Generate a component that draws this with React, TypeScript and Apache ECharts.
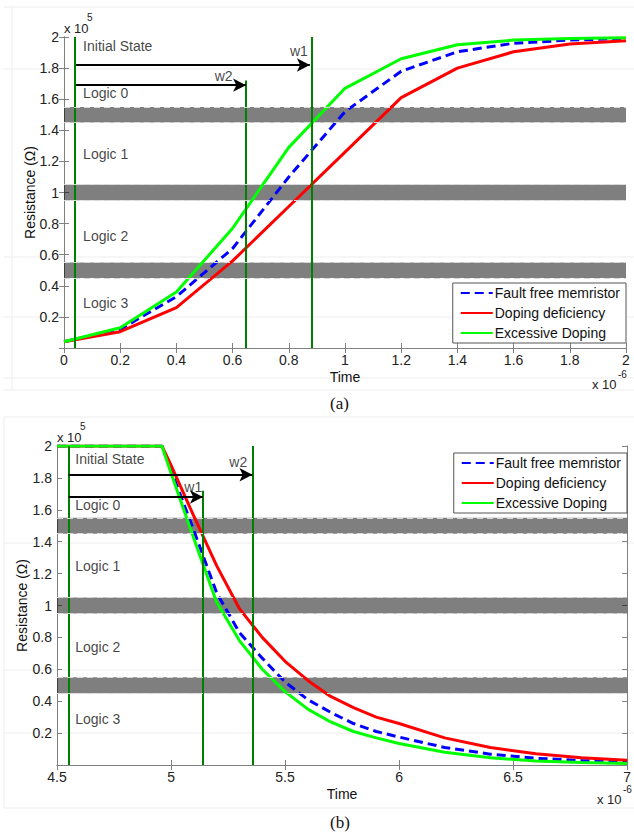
import React, { useEffect, useRef } from "react";
import * as echarts from "echarts";

// ---------- (a) data ----------
const timeA = [0, 0.2, 0.4, 0.6, 0.8, 1.0, 1.2, 1.4, 1.6, 1.8, 2.0];
const faultFreeA = [0.04, 0.12, 0.33, 0.64, 1.10, 1.52, 1.78, 1.905, 1.96, 1.98, 1.99];
const dopingDefA = [0.04, 0.105, 0.26, 0.56, 0.91, 1.26, 1.61, 1.80, 1.905, 1.955, 1.976];
const excessA = [0.04, 0.13, 0.36, 0.77, 1.29, 1.67, 1.86, 1.95, 1.98, 1.99, 1.995];

// ---------- (b) data ----------
const timeB = [4.5, 4.96, 5.0, 5.1, 5.2, 5.3, 5.4, 5.5, 5.6, 5.7, 5.8, 5.9, 6.0, 6.2, 6.4, 6.6, 6.8, 7.0];
const faultFreeB = [2, 2, 1.85, 1.47, 1.08, 0.83, 0.67, 0.52, 0.41, 0.33, 0.26, 0.21, 0.175, 0.11, 0.068, 0.042, 0.028, 0.02];
const dopingDefB = [2, 2, 1.88, 1.56, 1.25, 0.98, 0.80, 0.65, 0.53, 0.43, 0.36, 0.30, 0.26, 0.17, 0.11, 0.07, 0.045, 0.03];
const excessB = [2, 2, 1.83, 1.42, 1.02, 0.78, 0.60, 0.46, 0.35, 0.27, 0.21, 0.17, 0.135, 0.08, 0.045, 0.025, 0.015, 0.01];

// logic level bands (x1e5 ohm)
const bands = [[1.45, 1.55], [0.95, 1.05], [0.45, 0.55]];

// write pulses
const fullLinesA = [0.043, 0.875];
const partLinesA = [[0.648, 1.72]];
const arrowsA = [[0.043, 0.875, 1.82], [0.043, 0.648, 1.69]];
const fullLinesB = [4.551, 5.357];
const partLinesB = [[5.14, 1.72]];
const arrowsB = [[4.551, 5.357, 1.82], [4.551, 5.14, 1.68]];

// text annotations [x, y, text, align]
const labelsA: [number, number, string, string][] = [
  [0.068, 1.94, "Initial State", "l"],
  [0.068, 1.64, "Logic 0", "l"],
  [0.068, 1.25, "Logic 1", "l"],
  [0.068, 0.72, "Logic 2", "l"],
  [0.068, 0.29, "Logic 3", "l"],
  [0.868, 1.91, "w1", "r"],
  [0.60, 1.75, "w2", "r"],
];
const labelsB: [number, number, string, string][] = [
  [4.58, 1.92, "Initial State", "l"],
  [4.58, 1.63, "Logic 0", "l"],
  [4.58, 1.25, "Logic 1", "l"],
  [4.58, 0.74, "Logic 2", "l"],
  [4.58, 0.29, "Logic 3", "l"],
  [5.334, 1.9, "w2", "r"],
  [5.137, 1.74, "w1", "r"],
];

const names = ["Fault free memristor", "Doping deficiency", "Excessive Doping"];
const FONT = "Liberation Sans";

function zip(xs: number[], ys: number[]) {
  return xs.map((x, i) => [x, ys[i]]);
}

function curveSeries(xi: number, yi: number, t: number[], ff: number[], dd: number[], ex: number[]) {
  const base = { type: "line", xAxisIndex: xi, yAxisIndex: yi, symbol: "none", showSymbol: false, silent: true, z: 3 };
  return [
    { ...base, name: names[0], data: zip(t, ff), lineStyle: { color: "#0000ff", width: 3, type: [9, 5] }, itemStyle: { color: "#0000ff" } },
    { ...base, name: names[1], data: zip(t, dd), lineStyle: { color: "#ff0000", width: 3 }, itemStyle: { color: "#ff0000" } },
    { ...base, name: names[2], data: zip(t, ex), lineStyle: { color: "#00ff00", width: 3 }, itemStyle: { color: "#00ff00" } },
  ];
}

function markSeries(xi: number, yi: number, full: number[], part: number[][], arrows: number[][], labels: [number, number, string, string][]) {
  const green = { color: "#008000", width: 2, type: "solid" };
  const black = { color: "#000000", width: 2, type: "solid" };
  const lineData: any[] = [];
  full.forEach((v) => lineData.push({ xAxis: v, lineStyle: green, symbol: "none" }));
  part.forEach(([x, top]) => lineData.push([{ coord: [x, 0], lineStyle: green, symbol: "none" }, { coord: [x, top], symbol: "none" }]));
  arrows.forEach(([x1, x2, y]) => lineData.push([{ coord: [x1, y], lineStyle: black, symbol: "none" }, { coord: [x2, y], symbol: "arrow", symbolSize: [10, 13] }]));
  const edges: any[] = [];
  bands.forEach(([a, b]) => {
    edges.push({ yAxis: a });
    edges.push({ yAxis: b });
  });
  return [
    {
      type: "scatter",
      xAxisIndex: xi,
      yAxisIndex: yi,
      silent: true,
      symbolSize: 0,
      z: 4,
      data: labels.map(([x, y, txt, al]) => ({
        value: [x, y],
        label: {
          show: true,
          formatter: txt,
          position: al === "l" ? "right" : "left",
          distance: 0,
          fontSize: 14,
          color: "#111",
          fontFamily: FONT,
        },
      })),
      markLine: {
        silent: true,
        symbol: "none",
        label: { show: false },
        animation: false,
        data: lineData,
      },
    },
    {
      type: "line",
      xAxisIndex: xi,
      yAxisIndex: yi,
      data: [],
      silent: true,
      z: 10,
      markArea: {
        silent: true,
        itemStyle: { color: "rgba(0,0,0,0.5)", borderWidth: 0 },
        data: bands.map(([a, b]) => [{ yAxis: a }, { yAxis: b }]),
      },
      markLine: {
        silent: true,
        symbol: "none",
        label: { show: false },
        lineStyle: { color: "#d8d8d8", width: 1.2, type: [6, 4] },
        data: edges,
      },
    },
  ];
}

const axisLine = { show: true, lineStyle: { color: "#808080", width: 1 } };
const axisTick = { show: true, inside: true, length: 5, lineStyle: { color: "#808080" } };
const axisLabel = { fontSize: 14, color: "#222", fontFamily: FONT, margin: 5 };

function xAxes(grid: number, min: number, max: number, interval: number) {
  return [
    {
      type: "value", gridIndex: grid, min, max, interval, position: "bottom",
      name: "Time", nameLocation: "middle", nameGap: 22, nameMoveOverlap: false,
      nameTextStyle: { fontSize: 14, color: "#111", fontFamily: FONT },
      axisLine, axisTick, axisLabel: { ...axisLabel, formatter: (v: number) => String(+v.toFixed(2)) },
      splitLine: { show: false },
    },
    {
      type: "value", gridIndex: grid, min, max, interval, position: "top",
      axisLine, axisTick, axisLabel: { show: false }, splitLine: { show: false },
    },
  ];
}

function yAxes(grid: number, gap: number) {
  return [
    {
      type: "value", gridIndex: grid, min: 0, max: 2, interval: 0.2, position: "left",
      name: "Resistance (Ω)", nameLocation: "middle", nameGap: gap, nameRotate: 90, nameMoveOverlap: false,
      nameTextStyle: { fontSize: 14, color: "#111", fontFamily: FONT },
      axisLine, axisTick,
      axisLabel: { ...axisLabel, formatter: (v: number) => (v === 0 ? "" : String(+v.toFixed(2))) },
      splitLine: { show: false },
    },
    {
      type: "value", gridIndex: grid, min: 0, max: 2, interval: 0.2, position: "right",
      axisLine, axisTick, axisLabel: { show: false }, splitLine: { show: false },
    },
  ];
}

function legend(right: number, top: number) {
  return {
    data: names,
    orient: "vertical",
    right,
    top,
    padding: [3, 6, 3, 7],
    itemGap: 6,
    itemWidth: 32,
    itemHeight: 14,
    backgroundColor: "#ffffff",
    borderColor: "#555555",
    borderWidth: 1,
    borderRadius: 0,
    itemStyle: { opacity: 0 },
    textStyle: { fontSize: 14, color: "#111", fontFamily: FONT, padding: [0, 0, 0, -3] },
    selectedMode: false,
  };
}

function expText(x: number, y: number, x2: number, y2: number, sup: string) {
  return [
    { type: "text", left: x, top: y, style: { text: "x 10", font: `13px '${FONT}'`, fill: "#222" } },
    { type: "text", left: x2, top: y2, style: { text: sup, font: `10px '${FONT}'`, fill: "#222" } },
  ];
}

const faintLines = [7, 69, 257, 317, 378, 390, 417, 543, 670, 733, 808];

export default function App() {
  const ref = useRef<HTMLDivElement>(null);
  useEffect(() => {
    document.body.style.margin = "0";
    const chart = echarts.init(ref.current!, undefined, { renderer: "svg" });
    const graphic: any[] = [];
    faintLines.forEach((y) =>
      graphic.push({ type: "line", silent: true, z: -10, shape: { x1: 4, y1: y, x2: 634, y2: y }, style: { stroke: "#ededed", lineWidth: 1 } })
    );
    graphic.push({ type: "line", silent: true, z: -10, shape: { x1: 12, y1: 7, x2: 12, y2: 390 }, style: { stroke: "#ededed", lineWidth: 1 } });
    graphic.push({ type: "line", silent: true, z: -10, shape: { x1: 4, y1: 417, x2: 4, y2: 808 }, style: { stroke: "#ededed", lineWidth: 1 } });
    graphic.push(...expText(64, 22, 87, 12, "5"));
    graphic.push(...expText(57, 431, 80, 421, "5"));
    graphic.push(...expText(592, 378, 618, 369, "-6"));
    graphic.push(...expText(597, 793, 623, 784, "-6"));
    graphic.push({ type: "text", left: 330, top: 395, style: { text: "(a)", font: "17px 'Liberation Serif'", fill: "#111" } });
    graphic.push({ type: "text", left: 330, top: 814, style: { text: "(b)", font: "17px 'Liberation Serif'", fill: "#111" } });

    const option: any = {
      animation: false,
      backgroundColor: "#ffffff",
      textStyle: { fontFamily: FONT },
      grid: [
        { left: 64, top: 37, width: 562, height: 311 },
        { left: 57, top: 446, width: 574, height: 319 },
      ],
      xAxis: [...xAxes(0, 0, 2, 0.2), ...xAxes(1, 4.5, 7, 0.5)],
      yAxis: [...yAxes(0, 27), ...yAxes(1, 28)],
      legend: [legend(8, 283), legend(7, 453)],
      series: [
        ...curveSeries(0, 0, timeA, faultFreeA, dopingDefA, excessA),
        ...curveSeries(2, 2, timeB, faultFreeB, dopingDefB, excessB),
        ...markSeries(0, 0, fullLinesA, partLinesA, arrowsA, labelsA),
        ...markSeries(2, 2, fullLinesB, partLinesB, arrowsB, labelsB),
      ],
      graphic,
    };
    chart.setOption(option);
    return () => chart.dispose();
  }, []);
  return <div ref={ref} style={{ width: 634, height: 836 }} />;
}
